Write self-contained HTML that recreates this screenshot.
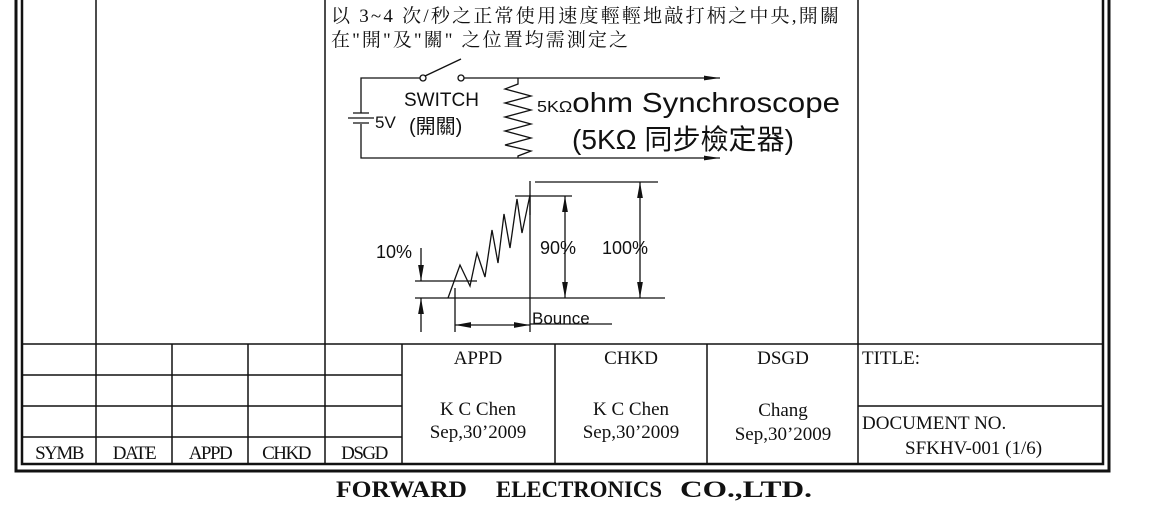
<!DOCTYPE html>
<html><head><meta charset="utf-8"><style>
html,body{margin:0;padding:0;background:#fff;width:1150px;height:510px;overflow:hidden}
svg{display:block}
.t{font-family:"Liberation Serif","Noto Serif CJK SC",serif;font-size:19px;fill:#111}
.s{font-family:"Liberation Sans","Noto Sans CJK TC",sans-serif;fill:#111}
.c{font-family:"Liberation Serif","Noto Serif CJK SC",serif;font-size:19px;fill:#111}
.f{font-family:"Liberation Serif",serif;font-weight:bold;font-size:23px;fill:#111}
</style></head><body>
<svg width="1150" height="510" viewBox="0 0 1150 510" xmlns="http://www.w3.org/2000/svg">
<defs><marker id="a" viewBox="0 0 10 10" refX="10" refY="5" markerWidth="16" markerHeight="16" orient="auto-start-reverse" markerUnits="userSpaceOnUse"><path d="M0,3.2L10,5L0,6.8z" fill="#111"/></marker>
<marker id="b" viewBox="0 0 10 10" refX="10" refY="5" markerWidth="16" markerHeight="16" orient="auto-start-reverse" markerUnits="userSpaceOnUse"><path d="M0,3.5L10,5L0,6.5z" fill="#111"/></marker></defs>
<g stroke="#111" fill="none">
<path d="M16,0V471H1109V0" stroke-width="3"/>
<path d="M22,0V464H1103V0" stroke-width="2.5"/>
<line x1="96" y1="0" x2="96" y2="344" stroke-width="1.5"/>
<line x1="325" y1="0" x2="325" y2="464" stroke-width="1.5"/>
<line x1="858" y1="0" x2="858" y2="464" stroke-width="1.5"/>
<line x1="22" y1="344" x2="1103" y2="344" stroke-width="1.5"/>
<line x1="22" y1="375" x2="402" y2="375" stroke-width="1.5"/>
<line x1="22" y1="406" x2="402" y2="406" stroke-width="1.5"/>
<line x1="22" y1="437" x2="402" y2="437" stroke-width="1.5"/>
<line x1="858" y1="406" x2="1103" y2="406" stroke-width="1.5"/>
<line x1="96" y1="344" x2="96" y2="464" stroke-width="1.5"/>
<line x1="172" y1="344" x2="172" y2="464" stroke-width="1.5"/>
<line x1="248" y1="344" x2="248" y2="464" stroke-width="1.5"/>
<line x1="402" y1="344" x2="402" y2="464" stroke-width="1.5"/>
<line x1="555" y1="344" x2="555" y2="464" stroke-width="1.5"/>
<line x1="707" y1="344" x2="707" y2="464" stroke-width="1.5"/>
<g stroke-width="1.3">
<path d="M423,78H361V113M361,124V158H720" marker-end="url(#b)"/>
<path d="M460,78H720" marker-end="url(#b)"/>
<path d="M353,113H369M348,118H374M353,123H369"/>
<circle cx="423" cy="78" r="3" fill="#fff"/><circle cx="461" cy="78" r="3" fill="#fff"/>
<path d="M425,76L461,59"/>
<path d="M518,78V84L505,89L531,96L505,103L531,110L505,117L531,124L505,131L531,138L505,145L531,151L518,156V158"/>
</g>
<g stroke-width="1.3">
<path d="M415,298H665M415,281H477M515,196H572M535,182H658M530,181V332M455,288V332M530,324H612"/>
<path d="M448,298L460,265L470,286L477,253L485,277L492,230L498,263L504,214L510,248L517,199L522,233L530,195V215"/>
<path d="M421,248V281" marker-end="url(#a)"/>
<path d="M421,332V298" marker-end="url(#a)"/>
<path d="M565,196V298" marker-start="url(#a)" marker-end="url(#a)"/>
<path d="M640,182V298" marker-start="url(#a)" marker-end="url(#a)"/>
<path d="M455,325H530" marker-start="url(#a)" marker-end="url(#a)"/>
</g>
</g>
<text class="c" x="331" y="22" textLength="508" lengthAdjust="spacing">以 3~4 次/秒之正常使用速度輕輕地敲打柄之中央,開關</text>
<text class="c" x="331" y="46" textLength="297" lengthAdjust="spacing">在"開"及"關" 之位置均需測定之</text>
<text class="s" x="404" y="106" font-size="19">SWITCH</text>
<text class="s" x="409" y="133" font-size="20">(開關)</text>
<text class="s" x="375" y="128" font-size="17">5V</text>
<text class="s" x="537" y="112" font-size="28" textLength="303" lengthAdjust="spacingAndGlyphs"><tspan font-size="16">5KΩ</tspan>ohm Synchroscope</text>
<text class="s" x="572" y="149" font-size="28" textLength="222" lengthAdjust="spacingAndGlyphs">(5KΩ 同步檢定器)</text>
<text class="s" x="376" y="258" font-size="18">10%</text>
<text class="s" x="540" y="254" font-size="18">90%</text>
<text class="s" x="602" y="254" font-size="18">100%</text>
<text class="s" x="532" y="324" font-size="17">Bounce</text>
<g class="t" text-anchor="middle">
<text x="59" y="459" letter-spacing="-1.5">SYMB</text><text x="134" y="459" letter-spacing="-1.5">DATE</text>
<text x="210" y="459" letter-spacing="-1.5">APPD</text><text x="286" y="459" letter-spacing="-1.5">CHKD</text>
<text x="364" y="459" letter-spacing="-1.5">DSGD</text>
<text x="478" y="364">APPD</text><text x="631" y="364">CHKD</text><text x="783" y="364">DSGD</text>
<text x="478" y="415">K C Chen</text><text x="478" y="438">Sep,30’2009</text>
<text x="631" y="415">K C Chen</text><text x="631" y="438">Sep,30’2009</text>
<text x="783" y="416">Chang</text><text x="783" y="440">Sep,30’2009</text>
</g>
<text class="t" x="862" y="364">TITLE:</text>
<text class="t" x="862" y="429">DOCUMENT NO.</text>
<text class="t" x="905" y="454">SFKHV-001 (1/6)</text>
<text class="f" x="336" y="497" textLength="131" lengthAdjust="spacingAndGlyphs">FORWARD</text>
<text class="f" x="496" y="497" textLength="166" lengthAdjust="spacingAndGlyphs">ELECTRONICS</text>
<text class="f" x="680" y="497" textLength="132" lengthAdjust="spacingAndGlyphs">CO.,LTD.</text>
</svg>
</body></html>
